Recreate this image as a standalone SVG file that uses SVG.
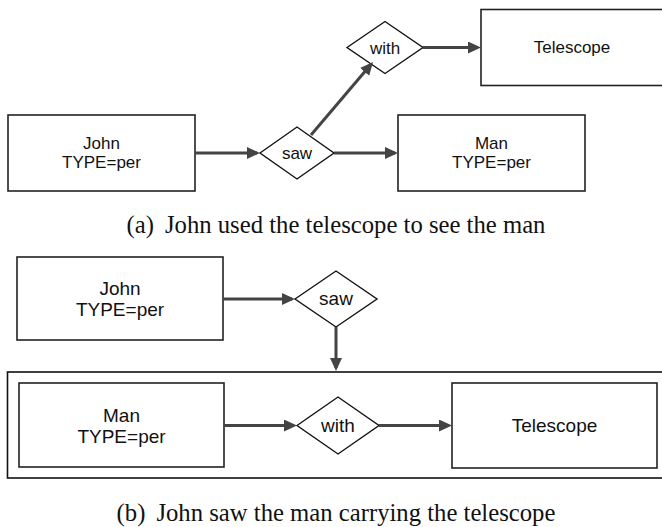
<svg xmlns="http://www.w3.org/2000/svg" width="662" height="527" viewBox="0 0 662 527">
  <style>
    .box { fill: #fff; stroke: #222; stroke-width: 1.6; }
    .dia { fill: #fff; stroke: #111; stroke-width: 1.4; }
    .outer { fill: none; stroke: #111; stroke-width: 1.6; }
    .lbl { font-family: "Liberation Sans", Arial, sans-serif; fill: #111; text-anchor: middle; }
    .sa { font-size: 17px; }
    .sb { font-size: 19px; }
    .cap { font-family: "Liberation Serif", "Times New Roman", serif; font-size: 24.7px; fill: #111; text-anchor: middle; }
    .conn line { stroke: #444; stroke-width: 3; marker-end: url(#ah); }
  </style>
  <defs>
    <marker id="ah" markerUnits="userSpaceOnUse" markerWidth="14" markerHeight="13" refX="10" refY="6" orient="auto">
      <path d="M0,0 L13,6 L0,12 z" fill="#444"/>
    </marker>
  </defs>

  <!-- (a) -->
  <g id="a-john">
    <rect class="box" x="8" y="115" width="187" height="76"/>
    <text class="lbl sa" x="101.5" y="149">John</text>
    <text class="lbl sa" x="101.5" y="168">TYPE=per</text>
  </g>
  <g id="a-saw">
    <polygon class="dia" points="260,153 297,127 334,153 297,179"/>
    <text class="lbl sa" x="297" y="159">saw</text>
  </g>
  <g id="a-man">
    <rect class="box" x="398" y="115" width="187" height="76"/>
    <text class="lbl sa" x="491.5" y="149">Man</text>
    <text class="lbl sa" x="491.5" y="168">TYPE=per</text>
  </g>
  <g id="a-with">
    <polygon class="dia" points="347,47.5 385,21.5 423,47.5 385,73.5"/>
    <text class="lbl sa" x="385" y="54">with</text>
  </g>
  <g id="a-telescope">
    <rect class="box" x="481" y="9.5" width="190" height="76"/>
    <text class="lbl sa" x="572" y="53">Telescope</text>
  </g>

  <!-- (b) -->
  <g id="b-group">
    <rect class="outer" x="7.5" y="372" width="665" height="106"/>
  </g>
  <g id="b-john">
    <rect class="box" x="17" y="257" width="206" height="83"/>
    <text class="lbl sb" x="120" y="295">John</text>
    <text class="lbl sb" x="120" y="316">TYPE=per</text>
  </g>
  <g id="b-saw">
    <polygon class="dia" points="295,299 336,271 377,299 336,327"/>
    <text class="lbl sb" x="336" y="305">saw</text>
  </g>
  <g id="b-man">
    <rect class="box" x="19" y="383" width="205" height="84"/>
    <text class="lbl sb" x="121.5" y="422">Man</text>
    <text class="lbl sb" x="121.5" y="443">TYPE=per</text>
  </g>
  <g id="b-with">
    <polygon class="dia" points="297,425.5 338,397 379,425.5 338,454"/>
    <text class="lbl sb" x="338" y="432">with</text>
  </g>
  <g id="b-telescope">
    <rect class="box" x="452" y="383" width="205" height="85"/>
    <text class="lbl sb" x="554.5" y="432">Telescope</text>
  </g>

  <g id="connectors" class="conn">
    <line x1="195" y1="153" x2="257" y2="153"/>
    <line x1="334" y1="153" x2="395" y2="153"/>
    <line x1="311" y1="135" x2="371.1" y2="64.3"/>
    <line x1="423" y1="47.5" x2="478" y2="47.5"/>
    <line x1="223" y1="299" x2="292" y2="299"/>
    <line x1="336" y1="327" x2="336" y2="368"/>
    <line x1="224" y1="425.5" x2="294" y2="425.5"/>
    <line x1="379" y1="425.5" x2="449" y2="425.5"/>
  </g>

  <text class="cap" x="336" y="233">(a)<tspan dx="11">John used the telescope to see the man</tspan></text>
  <text class="cap" x="336" y="521">(b)<tspan dx="11">John saw the man carrying the telescope</tspan></text>
</svg>
